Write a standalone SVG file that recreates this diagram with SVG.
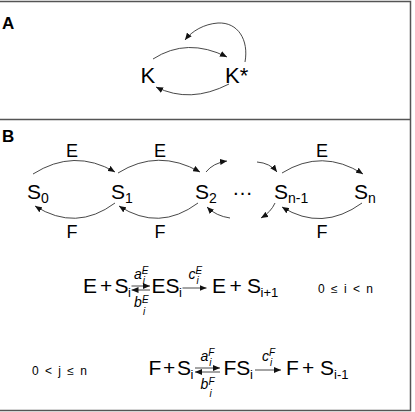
<svg xmlns="http://www.w3.org/2000/svg" width="415" height="412" viewBox="0 0 415 412">
<style>
text{font-family:"Liberation Sans",Arial,sans-serif;fill:#000}
.lbl{font-weight:bold;font-size:17px}
.k{font-size:22px}
.n{font-size:21px}
.sub{font-size:14px}
.esub{font-size:13px}
.e{font-size:18px;text-anchor:middle}
.it{font-style:italic;font-size:14px}
.sx{font-style:italic;font-size:10px}
.cond{font-size:12px;word-spacing:3px}
.c{fill:none;stroke:#333;stroke-width:0.9}
.frame{fill:none;stroke:#555;stroke-width:1.5}
</style>
<defs>
<marker id="ah" markerUnits="userSpaceOnUse" markerWidth="7" markerHeight="6" refX="7" refY="3" orient="auto"><path d="M0,0L7,3L0,6z" fill="#111"/></marker>
</defs>
<g id="frame">
<path class="frame" d="M0,1.5H410.5V410.5H0"/>
<path class="frame" d="M0,119.5H410.5"/>
</g>
<text class="lbl" x="2" y="29">A</text>
<text class="lbl" x="2" y="142">B</text>
<g id="connectors">
<path class="c" marker-end="url(#ah)" d="M153,59Q187,37 227,57"/>
<path class="c" marker-end="url(#ah)" d="M229,84Q190,104 156,87"/>
<path class="c" marker-end="url(#ah)" d="M245,62C249,40 238,22 218,23C204,24 192,31 185,40"/>
<path class="c" marker-end="url(#ah)" d="M33,174Q74,148 115,172"/>
<path class="c" marker-end="url(#ah)" d="M118,173Q158,148 200,172"/>
<path class="c" marker-end="url(#ah)" d="M206,172Q213,163 227,161"/>
<path class="c" marker-end="url(#ah)" d="M257,162Q270,163 277,172"/>
<path class="c" marker-end="url(#ah)" d="M282,173Q322,148 363,174"/>
<path class="c" marker-end="url(#ah)" d="M115,203Q76,232 35,206"/>
<path class="c" marker-end="url(#ah)" d="M198,203Q159,232 119,206"/>
<path class="c" marker-end="url(#ah)" d="M230,218Q216,216 207,207"/>
<path class="c" marker-end="url(#ah)" d="M275,203Q271,212 261,218"/>
<path class="c" marker-end="url(#ah)" d="M362,203Q322,232 282,207"/>
</g>
<g id="K"><text class="k" x="140.5" y="83">K</text></g>
<g id="Kstar"><text class="k" x="225" y="83">K*</text></g>
<g id="S0"><text class="n" x="27" y="199">S<tspan class="sub" dy="4">0</tspan></text></g>
<g id="S1"><text class="n" x="111" y="199">S<tspan class="sub" dy="4">1</tspan></text></g>
<g id="S2"><text class="n" x="195" y="199">S<tspan class="sub" dy="4">2</tspan></text></g>
<g id="dots"><text class="n" x="232" y="195">…</text></g>
<g id="Sn-1"><text class="n" x="274" y="199">S<tspan class="sub" dy="4">n-1</tspan></text></g>
<g id="Sn"><text class="n" x="354" y="199">S<tspan class="sub" dy="4">n</tspan></text></g>
<g id="edge-labels">
<text class="e" x="72" y="157">E</text>
<text class="e" x="160" y="157">E</text>
<text class="e" x="322" y="157">E</text>
<text class="e" x="72" y="238">F</text>
<text class="e" x="160" y="238">F</text>
<text class="e" x="322" y="238">F</text>
</g>
<g id="reaction-E">
<text class="n" x="83" y="293">E</text>
<text class="n" x="100" y="293">+</text>
<text class="n" x="114.5" y="293">S</text>
<text class="esub" x="128" y="297">i</text>
<path class="c" marker-end="url(#ah)" d="M131.5,286H150"/>
<path class="c" marker-end="url(#ah)" d="M150,290H131.5"/>
<text class="it" x="134" y="279">a</text><text class="sx" x="141.8" y="274">E</text><text class="sx" x="142.8" y="284">i</text>
<text class="it" x="134" y="307">b</text><text class="sx" x="142" y="302.5">E</text><text class="sx" x="143" y="315">i</text>
<text class="n" x="151.5" y="293">ES</text>
<text class="esub" x="179" y="297">i</text>
<path class="c" marker-end="url(#ah)" d="M182.5,288H206.5"/>
<text class="it" x="188.5" y="279">c</text><text class="sx" x="195.5" y="274">E</text><text class="sx" x="196.5" y="284">i</text>
<text class="n" x="212" y="293">E</text>
<text class="n" x="229.5" y="293">+</text>
<text class="n" x="247" y="293">S</text>
<text class="esub" x="260.5" y="297">i+1</text>
<text class="cond" x="318" y="293">0 ≤ i &lt; n</text>
</g>
<g id="reaction-F">
<text class="cond" x="32" y="375">0 &lt; j ≤ n</text>
<text class="n" x="148.5" y="375">F</text>
<text class="n" x="163" y="375">+</text>
<text class="n" x="177" y="375">S</text>
<text class="esub" x="190.5" y="379">i</text>
<path class="c" marker-end="url(#ah)" d="M195,368H220"/>
<path class="c" marker-end="url(#ah)" d="M220,372H195"/>
<text class="it" x="200.5" y="361">a</text><text class="sx" x="208.3" y="356">F</text><text class="sx" x="209.3" y="366">i</text>
<text class="it" x="200.5" y="389">b</text><text class="sx" x="208.5" y="384.5">F</text><text class="sx" x="209.5" y="397">i</text>
<text class="n" x="223.5" y="375">FS</text>
<text class="esub" x="250" y="379">i</text>
<path class="c" marker-end="url(#ah)" d="M255,370H281"/>
<text class="it" x="262" y="361">c</text><text class="sx" x="269" y="356">F</text><text class="sx" x="270" y="366">i</text>
<text class="n" x="286" y="375">F</text>
<text class="n" x="302" y="375">+</text>
<text class="n" x="320" y="375">S</text>
<text class="esub" x="334" y="379">i-1</text>
</g>
</svg>
